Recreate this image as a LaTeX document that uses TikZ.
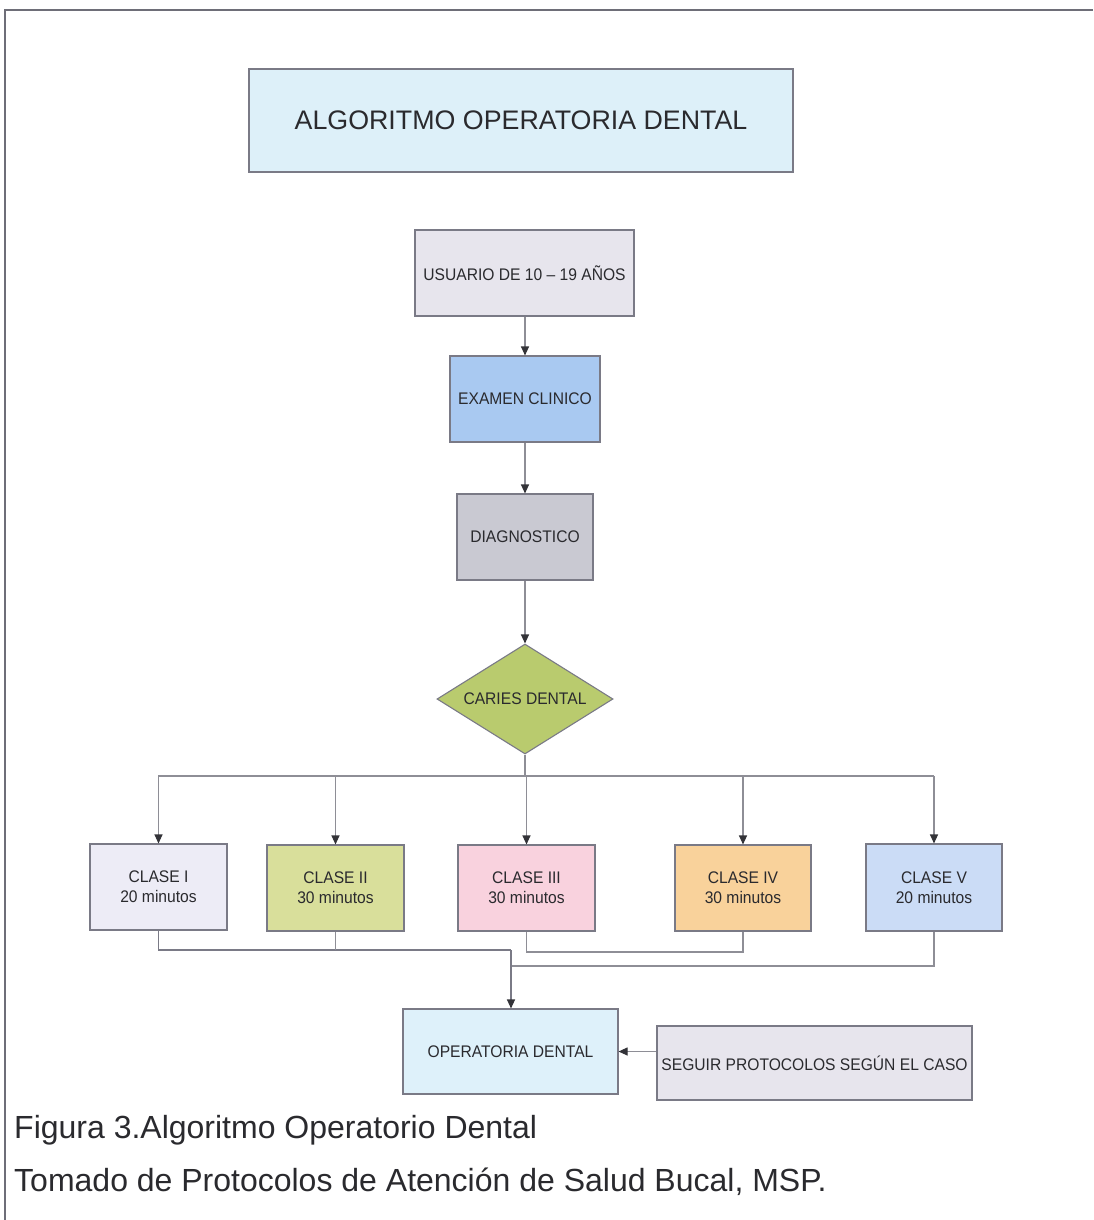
\documentclass[tikz,border=0pt]{standalone}
\usepackage{fontspec}
\setmainfont{Liberation Sans}
\newfontfamily\boxfont[FakeStretch=0.93]{Liberation Sans}
\usetikzlibrary{shapes.geometric,arrows.meta}
\definecolor{frame}{HTML}{6E6E78}
\definecolor{edge}{HTML}{7A7A86}
\definecolor{conn}{HTML}{8E8E96}
\definecolor{tipc}{HTML}{333338}
\definecolor{ctitle}{HTML}{DDF0F9}
\definecolor{cusr}{HTML}{E7E5ED}
\definecolor{cexam}{HTML}{A9C9F1}
\definecolor{cdiag}{HTML}{C9C9D2}
\definecolor{ccar}{HTML}{B9CB6E}
\definecolor{cI}{HTML}{EDECF6}
\definecolor{cII}{HTML}{D9DF9B}
\definecolor{cIII}{HTML}{F9D2DE}
\definecolor{cIV}{HTML}{F9D29B}
\definecolor{cV}{HTML}{CBDCF6}
\definecolor{cop}{HTML}{DEF1FA}
\definecolor{txt}{HTML}{2A2A2E}
\tikzset{
  x=1pt,y=-1pt,
  boxnode/.style={draw=edge,line width=1.1pt,rectangle,inner sep=0pt,align=center,text=txt,
     font=\boxfont\fontsize{16.8}{20}\selectfont},
  link/.style={draw=conn,line width=1.1pt},
  arr/.style={link,-{Triangle[width=8pt,length=9pt,color=tipc]}},
}
\begin{document}
\begin{tikzpicture}
\useasboundingbox (0,0) rectangle (1093,1220);
\fill[white] (0,0) rectangle (1093,1220);
% frame
\draw[frame,line width=2pt] (5,1220) -- (5,10) -- (1093,10);

% title
\node[boxnode,fill=ctitle,minimum width=544pt,minimum height=103pt,
      font=\fontsize{26.8}{32}\selectfont] (title) at (521,120.5) {ALGORITMO OPERATORIA DENTAL};

\node[boxnode,fill=cusr,minimum width=219pt,minimum height=86pt] (usr) at (524.5,273) {USUARIO DE 10 – 19 AÑOS};
\node[boxnode,fill=cexam,minimum width=150pt,minimum height=86pt] (exam) at (525,399) {EXAMEN CLINICO};
\node[boxnode,fill=cdiag,minimum width=136pt,minimum height=86pt] (diag) at (525,537) {DIAGNOSTICO};
\node[draw=edge,line width=1.1pt,diamond,fill=ccar,minimum width=176pt,minimum height=110pt,inner sep=0pt,
      aspect=1.6,text=txt,font=\boxfont\fontsize{16.8}{20}\selectfont] (car) at (525,699) {CARIES DENTAL};

\node[boxnode,fill=cI,minimum width=137pt,minimum height=86pt] (c1) at (158.5,887) {CLASE I\\20 minutos};
\node[boxnode,fill=cII,minimum width=137pt,minimum height=86pt] (c2) at (335.5,888) {CLASE II\\30 minutos};
\node[boxnode,fill=cIII,minimum width=137pt,minimum height=86pt] (c3) at (526.5,888) {CLASE III\\30 minutos};
\node[boxnode,fill=cIV,minimum width=136pt,minimum height=86pt] (c4) at (743,888) {CLASE IV\\30 minutos};
\node[boxnode,fill=cV,minimum width=136pt,minimum height=87pt] (c5) at (934,887.5) {CLASE V\\20 minutos};

\node[boxnode,fill=cop,minimum width=215pt,minimum height=85pt] (op) at (510.5,1051.5) {OPERATORIA DENTAL};
\node[boxnode,fill=cusr,minimum width=315pt,minimum height=74pt] (seg) at (814.5,1063) {SEGUIR PROTOCOLOS SEGÚN EL CASO};

% vertical chain
\draw[arr] (usr.south -| exam.north) -- (exam.north);
\draw[arr] (exam.south) -- (diag.north);
\draw[arr] (diag.south) -- (car.north);

% split
\coordinate (hl) at (158,776);
\coordinate (hr) at (934,776);
\draw[link] (car.south) -- (car.south |- hl);
\draw[link] (hl) -- (hr);
\draw[arr] (c1.north |- hl) -- (c1.north);
\draw[arr] (c2.north |- hl) -- (c2.north);
\draw[arr] (c3.north |- hl) -- (c3.north);
\draw[arr] (c4.north |- hl) -- (c4.north);
\draw[arr] (c5.north |- hl) -- (c5.north);

% merge
\coordinate (j1) at (511,950);
\coordinate (j2) at (743,952);
\coordinate (j3) at (511,966);
\draw[link,draw=edge] (c1.south) |- (j1);
\draw[link] (c2.south) -- (c2.south |- j1);
\draw[link] (c3.south) -- (c3.south |- j2) -- (j2) -- (c4.south);
\draw[link] (c5.south) |- (j3);
\draw[arr,draw=edge] (j1) -- (op.north -| j1);
\draw[arr] (op.east -| seg.west) -- (op.east);

% caption
\node[anchor=base west,inner sep=0pt,text=txt,font=\fontsize{32}{38}\selectfont] (cap1) at (14,1138) {Figura 3.Algoritmo Operatorio Dental};
\node[anchor=base west,inner sep=0pt,text=txt,font=\fontsize{32}{38}\selectfont] (cap2) at (14,1191) {Tomado de Protocolos de Atención de Salud Bucal, MSP.};
\end{tikzpicture}
\end{document}
